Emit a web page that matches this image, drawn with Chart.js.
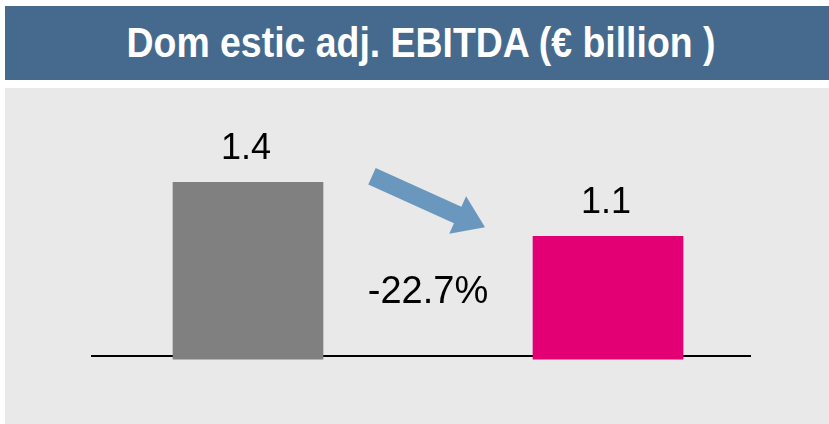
<!DOCTYPE html>
<html>
<head>
<meta charset="utf-8">
<script src="https://cdn.jsdelivr.net/npm/chart.js@4.4.1/dist/chart.umd.min.js"></script>
<style>
  body { margin: 0; background: #ffffff; width: 829px; height: 424px; overflow: hidden; position: relative; }
  #titlebar { position: absolute; left: 5px; top: 6px; width: 824px; height: 74px; background: #466a8d; }
  #titlebar span { position: absolute; left: 8px; right: 0; top: 10px; text-align: center; color: #fff;
    font-family: "Liberation Sans", Arial, sans-serif; font-weight: bold; font-size: 43px; line-height: 52px;
    transform: scaleX(0.87); transform-origin: 50% 50%; white-space: pre; }
  #panel { position: absolute; left: 5px; top: 88px; width: 824px; height: 336px; background: #e9e9e9; }
</style>
</head>
<body>
<div id="titlebar"><span>Dom estic adj. EBITDA (€ billion )</span></div>
<div id="panel"><canvas id="grafik" width="824" height="336"></canvas></div>
<script>
// data
var categories = ['2014', '2015']
var values = [1.4, 1.1]
var barColors = ['#808080', '#e20074']
var changeLabel = '-22.7%'

var yMin = 0.435
var yMax = 1.924

// value labels, change text and arrow
var extras = {
  id: 'extras',
  afterDatasetsDraw: function(chart) {
    var ctx = chart.ctx
    var meta = chart.getDatasetMeta(0)
    var x = chart.scales.x
    var area = chart.chartArea
    ctx.save()
    ctx.fillStyle = '#000'
    ctx.textAlign = 'center'
    ctx.textBaseline = 'alphabetic'
    ctx.font = '36px "Liberation Sans", Arial, sans-serif'
    meta.data.forEach(function(bar, i) {
      ctx.fillText(values[i].toFixed(1), bar.x - 2, bar.y - 23)
    })
    ctx.font = '38px "Liberation Sans", Arial, sans-serif'
    ctx.fillText(changeLabel, x.getPixelForValue(0.5), area.bottom - 53)

    // arrow from first bar towards second
    var b0 = meta.data[0], b1 = meta.data[1]
    var sx = b0.x + b0.width / 2 + 49, sy = b0.y - 6
    var ex = b1.x - b1.width / 2 - 48, ey = b1.y - 9
    var dx = ex - sx, dy = ey - sy
    var len = Math.sqrt(dx * dx + dy * dy)
    var ux = dx / len, uy = dy / len
    var px = -uy, py = ux
    var sw = 9, hw = 20.5, hl = 30
    var hx = ex - ux * hl, hy = ey - uy * hl
    ctx.fillStyle = '#6a97be'
    ctx.beginPath()
    ctx.moveTo(sx + px * sw, sy + py * sw)
    ctx.lineTo(hx + px * sw, hy + py * sw)
    ctx.lineTo(hx + px * hw, hy + py * hw)
    ctx.lineTo(ex, ey)
    ctx.lineTo(hx - px * hw, hy - py * hw)
    ctx.lineTo(hx - px * sw, hy - py * sw)
    ctx.lineTo(sx - px * sw, sy - py * sw)
    ctx.closePath()
    ctx.fill()
    ctx.restore()
  }
}

var points = values.map(function(v, i) { return {x: i, y: v} })

new Chart(document.getElementById('grafik'), {
  type: 'bar',
  data: {
    labels: categories,
    datasets: [{
      data: points,
      backgroundColor: barColors,
      barThickness: 150,
      base: yMin - 0.017,
      clip: false,
    }]
  },
  options: {
    responsive: false,
    animation: false,
    layout: { padding: { left: 87, right: 79, top: 0, bottom: 68 } },
    plugins: { legend: { display: false }, tooltip: { enabled: false } },
    scales: {
      x: {
        type: 'linear',
        min: -0.4333,
        max: 1.3944,
        offset: false,
        ticks: { display: false },
        grid: { display: false, drawTicks: false },
        border: { display: true, color: '#000', width: 2 }
      },
      y: {
        display: false,
        min: yMin,
        max: yMax
      }
    }
  },
  plugins: [extras]
})
</script>
</body>
</html>
